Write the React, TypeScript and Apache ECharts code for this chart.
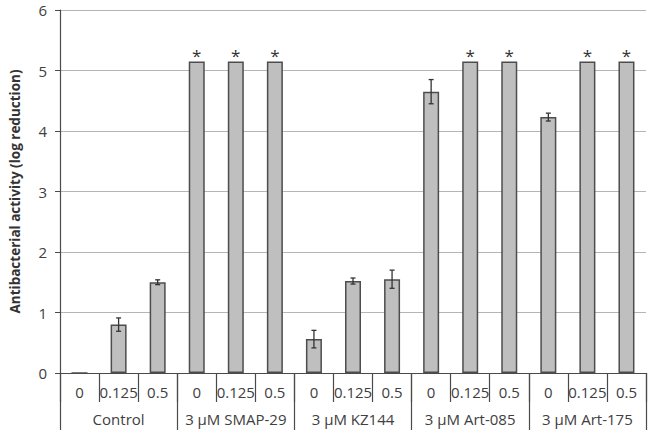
import React, { useEffect, useRef } from "react";
import * as echarts from "echarts";

const groups = ["Control", "3 μM SMAP-29", "3 μM KZ144", "3 μM Art-085", "3 μM Art-175"];
const concentrations = ["0", "0.125", "0.5"];
const values = [0, 0.8, 1.5, 5.15, 5.15, 5.15, 0.56, 1.52, 1.55, 4.65, 5.15, 5.15, 4.23, 5.15, 5.15];
const errors = [0, 0.11, 0.04, 0, 0, 0, 0.145, 0.05, 0.15, 0.2, 0, 0, 0.065, 0, 0];
const significant = [false, false, false, true, true, true, false, false, false, false, true, true, false, true, true];
const yTicks = [0, 1, 2, 3, 4, 5, 6];

const FONT = "'Open Sans', 'Liberation Sans', sans-serif";
const TEXT = "#404040";
const DARK = "#4a4a4a";

export default function App() {
  const ref = useRef<HTMLDivElement>(null);
  useEffect(() => {
    document.body.style.margin = "0";
    const chart = echarts.init(ref.current!, null, { renderer: "svg" });
    const cats: string[] = [];
    groups.forEach((g) => concentrations.forEach((c) => cats.push(g + "|" + c)));
    const barData = values.map((v, i) =>
      significant[i]
        ? { value: v, label: { show: true, position: "top", distance: -3, formatter: "*", fontSize: 17, color: "#333", fontFamily: FONT } }
        : { value: v }
    );
    const errData = values
      .map((v, i) => [i, v - errors[i], v + errors[i]])
      .filter((d, i) => errors[i] > 0);
    chart.setOption({
      animation: false,
      textStyle: { fontFamily: FONT },
      grid: { left: 49, right: 4, top: 10, bottom: 57, containLabel: false },
      xAxis: [
        {
          type: "category",
          data: cats,
          position: "bottom",
          axisLine: { show: true, lineStyle: { color: DARK, width: 1.2 } },
          axisTick: { show: true, length: 29, interval: 0, lineStyle: { color: DARK, width: 1.2 } },
          axisLabel: {
            interval: 0,
            margin: 11,
            fontSize: 15,
            color: TEXT,
            fontFamily: FONT,
            formatter: (v: string) => v.split("|")[1],
          },
        },
        {
          type: "category",
          data: groups,
          position: "bottom",
          axisLine: { show: false },
          axisTick: { show: true, length: 57, interval: 0, lineStyle: { color: DARK, width: 1.2 } },
          axisLabel: { interval: 0, margin: 38, fontSize: 15, color: TEXT, fontFamily: FONT },
        },
      ],
      yAxis: {
        type: "value",
        min: yTicks[0],
        max: yTicks[yTicks.length - 1],
        interval: 1,
        name: "Antibacterial activity (log reduction)",
        nameLocation: "middle",
        nameGap: 38,
        nameTextStyle: { fontSize: 13.5, fontWeight: "bold", color: "#333", fontFamily: FONT },
        axisLine: { show: true, lineStyle: { color: DARK, width: 1.2 } },
        axisTick: { show: true, length: 5, lineStyle: { color: DARK } },
        axisLabel: { margin: 13, fontSize: 15, lineHeight: 15, color: TEXT, fontFamily: FONT },
        splitLine: { show: true, lineStyle: { color: "#b5b5b5", width: 1 } },
      },
      series: [
        {
          type: "bar",
          xAxisIndex: 0,
          data: barData,
          barWidth: 16,
          itemStyle: { color: "#bfbfbf", borderColor: "#4d4d4d", borderWidth: 1.5 },
        },
        {
          type: "custom",
          xAxisIndex: 0,
          data: errData,
          encode: { x: 0, y: [1, 2] },
          z: 5,
          renderItem: (params: any, api: any) => {
            const x = api.value(0);
            const lo = api.coord([x, api.value(1)]);
            const hi = api.coord([x, api.value(2)]);
            const cw = 2.5;
            const style = { stroke: "#333", lineWidth: 1.3 };
            return {
              type: "group",
              children: [
                { type: "line", shape: { x1: lo[0], y1: lo[1], x2: hi[0], y2: hi[1] }, style },
                { type: "line", shape: { x1: lo[0] - cw, y1: lo[1], x2: lo[0] + cw, y2: lo[1] }, style },
                { type: "line", shape: { x1: hi[0] - cw, y1: hi[1], x2: hi[0] + cw, y2: hi[1] }, style },
              ],
            };
          },
        },
      ],
    });
    return () => chart.dispose();
  }, []);
  return <div ref={ref} style={{ width: 650, height: 430 }} />;
}
